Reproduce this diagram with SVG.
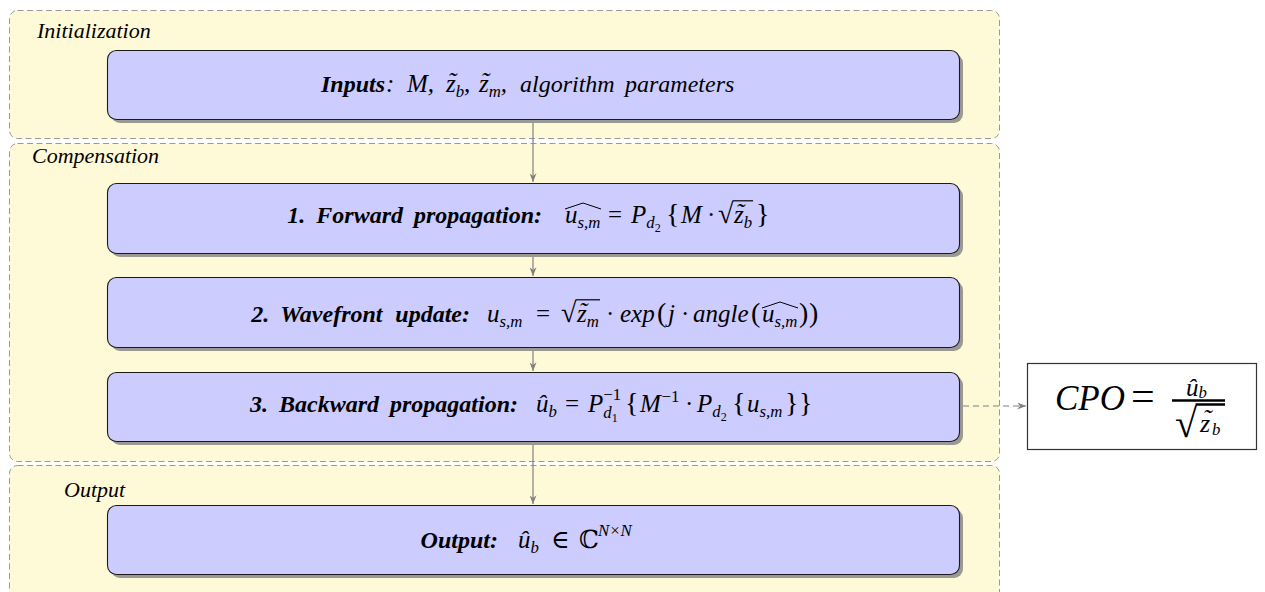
<svg xmlns="http://www.w3.org/2000/svg" width="1265" height="592" viewBox="0 0 1265 592">
<defs>
<style>
.grp{fill:#fef9d7;stroke:#9a9a9a;stroke-width:1;stroke-dasharray:6 3.5}
.nd{fill:#ccccff;stroke:#1a1a1a;stroke-width:1.1}
.sh{fill:#9a9a92}
.t{font-family:"Liberation Serif","DejaVu Serif",serif;font-style:italic;font-size:25px;fill:#000}
.b{font-weight:bold;font-size:24px}
.up{font-style:normal}
.big{font-size:28px}
.s{font-size:16.8px}
.ss{font-size:12px}
.gl{font-family:"Liberation Serif","DejaVu Serif",serif;font-style:italic;font-size:22px;fill:#000}
.acc{fill:none;stroke:#000;stroke-width:1}
.bar{stroke:#000;stroke-width:1.2}
.con{fill:none;stroke:#808080;stroke-width:1.2}
</style>
<marker id="ah" viewBox="0 0 10 8" refX="10" refY="4" markerWidth="9" markerHeight="7" orient="auto" markerUnits="userSpaceOnUse"><path d="M0,0 L10,4 L0,8 L3,4 Z" fill="#808080"/></marker>
</defs>

<g id="group-init"><rect class="grp" x="9.5" y="10.5" width="990" height="128" rx="8"/><text class="gl" x="37" y="38">Initialization</text></g>
<g id="group-comp"><rect class="grp" x="9.5" y="143.5" width="990" height="318" rx="8"/><text class="gl" x="32" y="163">Compensation</text></g>
<g id="group-out"><rect class="grp" x="9.5" y="465.5" width="990" height="140" rx="8"/><text class="gl" x="64" y="497">Output</text></g>

<g id="connectors">
<path class="con" d="M533,119 V182" marker-end="url(#ah)"/>
<path class="con" d="M533,253 V276" marker-end="url(#ah)"/>
<path class="con" d="M533,347 V371" marker-end="url(#ah)"/>
<path class="con" d="M533,441 V504" marker-end="url(#ah)"/>
<path class="con" d="M963,406 H1026" stroke-dasharray="6 4" marker-end="url(#ah)"/>
</g>

<g id="node-inputs">
<rect class="sh" x="111" y="54" width="852" height="69" rx="9"/>
<rect class="nd" x="107.5" y="50.5" width="852" height="69" rx="9"/>
<text class="t"><tspan class="b" x="321" y="92">Inputs</tspan><tspan x="386" y="92">:</tspan><tspan x="407" y="92">M,</tspan><tspan x="446" y="92">z</tspan><tspan class="s" x="455.7" y="97">b</tspan><tspan x="464.1" y="92">,</tspan><tspan x="479" y="92">z</tspan><tspan class="s" x="488.7" y="97">m</tspan><tspan x="500.8" y="92">,</tspan><tspan x="520" y="92" style="font-size:24px">algorithm</tspan><tspan x="625" y="92" style="font-size:24px">parameters</tspan><tspan x="452" y="90" text-anchor="middle">˜</tspan><tspan x="485" y="90" text-anchor="middle">˜</tspan></text>
</g>

<g id="node-forward">
<rect class="sh" x="111" y="187" width="852" height="70" rx="9"/>
<rect class="nd" x="107.5" y="183.5" width="852" height="70" rx="9"/>
<text class="t"><tspan class="b" x="287.3" y="223">1.</tspan><tspan class="b" x="316.3" y="223">Forward</tspan><tspan class="b" x="414" y="223">propagation:</tspan><tspan x="565" y="223">u</tspan><tspan class="s" x="577.5" y="228">s,m</tspan><tspan class="up" x="608" y="223">=</tspan><tspan x="631" y="223">P</tspan><tspan class="s" x="646.3" y="228">d</tspan><tspan class="ss up" x="654.7" y="232">2</tspan><tspan class="up big" x="666" y="223">{</tspan><tspan x="681" y="223">M</tspan><tspan class="up" x="707" y="223">·</tspan><tspan class="up big" x="718" y="223">√</tspan><tspan x="734" y="223">z</tspan><tspan class="s" x="743.7" y="228">b</tspan><tspan class="up big" x="756" y="223">}</tspan><tspan x="740" y="221" text-anchor="middle">˜</tspan></text>
<path class="acc" d="M565,209 L583,203 L601,209"/>
<line class="bar" x1="732.5" y1="200.8" x2="753" y2="200.8"/>
</g>

<g id="node-wavefront">
<rect class="sh" x="111" y="281" width="852" height="70" rx="9"/>
<rect class="nd" x="107.5" y="277.5" width="852" height="70" rx="9"/>
<text class="t"><tspan class="b" x="251.3" y="322">2.</tspan><tspan class="b" x="280.3" y="322">Wavefront</tspan><tspan class="b" x="395.3" y="322">update:</tspan><tspan x="487" y="322">u</tspan><tspan class="s" x="499.5" y="327">s,m</tspan><tspan class="up" x="536" y="322">=</tspan><tspan class="up big" x="561" y="322">√</tspan><tspan x="577" y="322">z</tspan><tspan class="s" x="586.7" y="327">m</tspan><tspan class="up" x="606" y="322">·</tspan><tspan x="620" y="322">exp</tspan><tspan class="up big" x="657" y="322">(</tspan><tspan x="668" y="322">j</tspan><tspan class="up" x="681" y="322">·</tspan><tspan x="693" y="322">angle</tspan><tspan class="up big" x="751" y="322">(</tspan><tspan x="762" y="322">u</tspan><tspan class="s" x="774.5" y="327">s,m</tspan><tspan class="up big" x="799" y="322">)</tspan><tspan class="up big" x="809" y="322">)</tspan><tspan x="583" y="320" text-anchor="middle">˜</tspan></text>
<line class="bar" x1="575.5" y1="299.8" x2="600" y2="299.8"/>
<path class="acc" d="M762,308 L780,302 L798,308"/>
</g>

<g id="node-backward">
<rect class="sh" x="111" y="376" width="852" height="69" rx="9"/>
<rect class="nd" x="107.5" y="372.5" width="852" height="69" rx="9"/>
<text class="t"><tspan class="b" x="250" y="412">3.</tspan><tspan class="b" x="279" y="412">Backward</tspan><tspan class="b" x="390" y="412">propagation:</tspan><tspan x="536" y="412">û</tspan><tspan class="s" x="548.5" y="417">b</tspan><tspan class="up" x="565" y="412">=</tspan><tspan x="588" y="412">P</tspan><tspan class="s up" x="603.3" y="400">−1</tspan><tspan class="s" x="603.3" y="418">d</tspan><tspan class="ss up" x="611.7" y="422">1</tspan><tspan class="up big" x="625" y="412">{</tspan><tspan x="640" y="412">M</tspan><tspan class="s up" x="661.5" y="402">−1</tspan><tspan class="up" x="685" y="412">·</tspan><tspan x="697" y="412">P</tspan><tspan class="s" x="712.3" y="417">d</tspan><tspan class="ss up" x="720.7" y="421">2</tspan><tspan class="up big" x="732" y="412">{</tspan><tspan x="747" y="412">u</tspan><tspan class="s" x="759.5" y="417">s,m</tspan><tspan class="up big" x="785" y="412">}</tspan><tspan class="up big" x="799" y="412">}</tspan></text>
</g>

<g id="node-output">
<rect class="sh" x="111" y="509" width="852" height="69" rx="9"/>
<rect class="nd" x="107.5" y="505.5" width="852" height="69" rx="9"/>
<text class="t"><tspan class="b" x="420.6" y="548">Output:</tspan><tspan x="518" y="548">û</tspan><tspan class="s" x="530.5" y="553">b</tspan><tspan class="up" x="551" y="548">∈</tspan><tspan class="up" x="579" y="548">ℂ</tspan><tspan class="s" x="598" y="536">N×N</tspan></text>
</g>

<g id="node-cpo">
<rect x="1027.5" y="363.5" width="229" height="86" fill="#fff" stroke="#333" stroke-width="1.2"/>
<text class="t" style="font-size:35px"><tspan x="1055" y="410">CPO</tspan><tspan class="up" x="1131" y="410" style="font-size:42px">=</tspan><tspan x="1186" y="396" style="font-size:25px">û</tspan><tspan class="s" x="1198.5" y="398">b</tspan><tspan class="up" x="1175" y="437" style="font-size:40px">√</tspan><tspan x="1200" y="432" style="font-size:26px">z</tspan><tspan class="s" x="1212" y="435">b</tspan><tspan x="1207" y="427" text-anchor="middle" style="font-size:26px">˜</tspan></text>
<line x1="1172" y1="400.5" x2="1225" y2="400.5" stroke="#000" stroke-width="2.5"/>
<line x1="1195.5" y1="404.5" x2="1225" y2="404.5" stroke="#000" stroke-width="2.5"/>
</g>
</svg>
